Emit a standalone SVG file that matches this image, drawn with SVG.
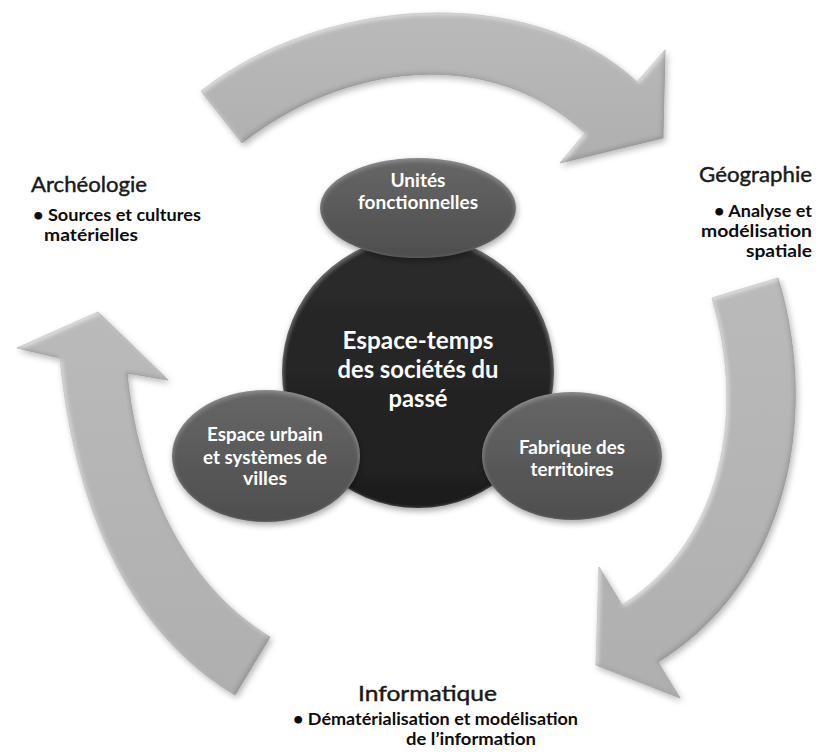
<svg xmlns="http://www.w3.org/2000/svg" width="816" height="755" viewBox="0 0 816 755">
<style>
  .arrow { fill: url(#gArrow); stroke: #a2a2a2; stroke-width: 0.8; filter: url(#bevel); }
  .ell { fill: url(#gEll); filter: url(#shade); }
  .core { fill: url(#gCore); filter: url(#shade); }
  .wt { font-family: Lato, "Open Sans", sans-serif; font-weight: bold; fill: #ffffff; text-anchor: middle; }
  .lbl { font-family: Lato, "Open Sans", sans-serif; font-size: 22px; fill: #1a1a1a; stroke: #1a1a1a; stroke-width: 0.45; }
  .sub { font-family: Lato, "Open Sans", sans-serif; font-size: 17px; font-weight: bold; fill: #0d0d0d; }
</style>
<defs>
  <linearGradient id="gArrow" x1="0" y1="0" x2="0" y2="1">
    <stop offset="0" stop-color="#bababa"/>
    <stop offset="1" stop-color="#afafaf"/>
  </linearGradient>
  <linearGradient id="gEll" x1="0" y1="0" x2="0" y2="1">
    <stop offset="0" stop-color="#676767"/>
    <stop offset="0.5" stop-color="#5a5a5a"/>
    <stop offset="1" stop-color="#4e4e4e"/>
  </linearGradient>
  <linearGradient id="gCore" x1="0" y1="0" x2="0" y2="1">
    <stop offset="0" stop-color="#2c2c2c"/>
    <stop offset="1" stop-color="#1e1e1e"/>
  </linearGradient>
  <filter id="bevel" x="-10%" y="-10%" width="125%" height="125%">
    <feGaussianBlur in="SourceAlpha" stdDeviation="2.2" result="blur"/>
    <feOffset in="blur" dx="-2" dy="-2" result="o1"/>
    <feComposite in="SourceAlpha" in2="o1" operator="out" result="rimBR"/>
    <feFlood flood-color="#000" flood-opacity="0.3"/>
    <feComposite in2="rimBR" operator="in" result="shBR"/>
    <feOffset in="blur" dx="2" dy="2" result="o2"/>
    <feComposite in="SourceAlpha" in2="o2" operator="out" result="rimTL"/>
    <feFlood flood-color="#fff" flood-opacity="0.55"/>
    <feComposite in2="rimTL" operator="in" result="hiTL"/>
    <feGaussianBlur in="SourceAlpha" stdDeviation="3" result="sb"/>
    <feOffset in="sb" dx="2" dy="3" result="so"/>
    <feFlood flood-color="#000" flood-opacity="0.28"/>
    <feComposite in2="so" operator="in" result="drop"/>
    <feMerge>
      <feMergeNode in="drop"/>
      <feMergeNode in="SourceGraphic"/>
      <feMergeNode in="hiTL"/>
      <feMergeNode in="shBR"/>
    </feMerge>
  </filter>
  <filter id="shade" x="-15%" y="-15%" width="130%" height="135%">
    <feGaussianBlur in="SourceAlpha" stdDeviation="2.5" result="blur"/>
    <feOffset in="blur" dx="0" dy="2" result="o2"/>
    <feComposite in="SourceAlpha" in2="o2" operator="out" result="rimT"/>
    <feFlood flood-color="#fff" flood-opacity="0.18"/>
    <feComposite in2="rimT" operator="in" result="hiT"/>
    <feGaussianBlur in="SourceAlpha" stdDeviation="3" result="sb"/>
    <feOffset in="sb" dx="1" dy="3" result="so"/>
    <feFlood flood-color="#000" flood-opacity="0.35"/>
    <feComposite in2="so" operator="in" result="drop"/>
    <feMerge>
      <feMergeNode in="drop"/>
      <feMergeNode in="SourceGraphic"/>
      <feMergeNode in="hiT"/>
    </feMerge>
  </filter>
</defs>
<rect width="816" height="755" fill="#ffffff"/>

<g id="connectors">
  <path id="arrow-top" class="arrow" d="M 201,91 C 319,-2 527,-20 637,82 L 665,50 L 663,138 L 560,163 L 585,133 C 490,44.5 344,62.5 242,143 Z"/>
  <path id="arrow-right" class="arrow" d="M 778,278 C 821,421 785,584 658,662 L 680,698 L 596,665 L 599,567 L 622,605 C 723,542 746.5,412 712,298 Z"/>
  <path id="arrow-left" class="arrow" d="M 235,695 C 120,626 73,492 60,358 L 17,348 L 98,312 L 168,380 L 127,373 C 137.5,478 180,582 270,637 Z"/>
</g>

<g id="node-center">
  <circle class="core" cx="418" cy="372" r="136"/>
  <text class="wt" font-size="24.5" x="418" y="349" textLength="151" lengthAdjust="spacingAndGlyphs">Espace-temps</text>
  <text class="wt" font-size="24.5" x="418" y="378" textLength="161" lengthAdjust="spacingAndGlyphs">des sociétés du</text>
  <text class="wt" font-size="24.5" x="418" y="407" textLength="59" lengthAdjust="spacingAndGlyphs">passé</text>
</g>

<g id="node-unites">
  <ellipse class="ell" cx="418" cy="208" rx="98" ry="50"/>
  <text class="wt" font-size="19" x="418" y="187" textLength="55" lengthAdjust="spacingAndGlyphs">Unités</text>
  <text class="wt" font-size="19" x="418" y="209" textLength="120" lengthAdjust="spacingAndGlyphs">fonctionnelles</text>
</g>

<g id="node-espace-urbain">
  <ellipse class="ell" cx="266" cy="456" rx="94" ry="66"/>
  <text class="wt" font-size="19" x="265" y="441" textLength="116" lengthAdjust="spacingAndGlyphs">Espace urbain</text>
  <text class="wt" font-size="19" x="265" y="464" textLength="124" lengthAdjust="spacingAndGlyphs">et systèmes de</text>
  <text class="wt" font-size="19" x="265" y="485" textLength="44" lengthAdjust="spacingAndGlyphs">villes</text>
</g>

<g id="node-fabrique">
  <ellipse class="ell" cx="572" cy="456" rx="90" ry="64"/>
  <text class="wt" font-size="19" x="572" y="454" textLength="106" lengthAdjust="spacingAndGlyphs">Fabrique des</text>
  <text class="wt" font-size="19" x="572" y="476" textLength="83" lengthAdjust="spacingAndGlyphs">territoires</text>
</g>

<g id="label-archeologie">
  <text class="lbl" x="31" y="192" textLength="116" lengthAdjust="spacingAndGlyphs">Archéologie</text>
  <text class="sub" x="33" y="221" textLength="168" lengthAdjust="spacingAndGlyphs">• Sources et cultures</text>
  <text class="sub" x="44" y="241" textLength="94" lengthAdjust="spacingAndGlyphs">matérielles</text>
</g>

<g id="label-geographie">
  <text class="lbl" x="812" y="182" text-anchor="end" textLength="113" lengthAdjust="spacingAndGlyphs">Géographie</text>
  <text class="sub" x="812" y="217" text-anchor="end" textLength="98" lengthAdjust="spacingAndGlyphs">• Analyse et</text>
  <text class="sub" x="812" y="237" text-anchor="end" textLength="111" lengthAdjust="spacingAndGlyphs">modélisation</text>
  <text class="sub" x="812" y="257" text-anchor="end" textLength="66" lengthAdjust="spacingAndGlyphs">spatiale</text>
</g>

<g id="label-informatique">
  <text class="lbl" x="358" y="701" textLength="139" lengthAdjust="spacingAndGlyphs">Informatique</text>
  <text class="sub" x="293" y="725" textLength="285" lengthAdjust="spacingAndGlyphs">• Dématérialisation et modélisation</text>
  <text class="sub" x="471" y="745" text-anchor="middle" textLength="130" lengthAdjust="spacingAndGlyphs">de l’information</text>
</g>
</svg>
